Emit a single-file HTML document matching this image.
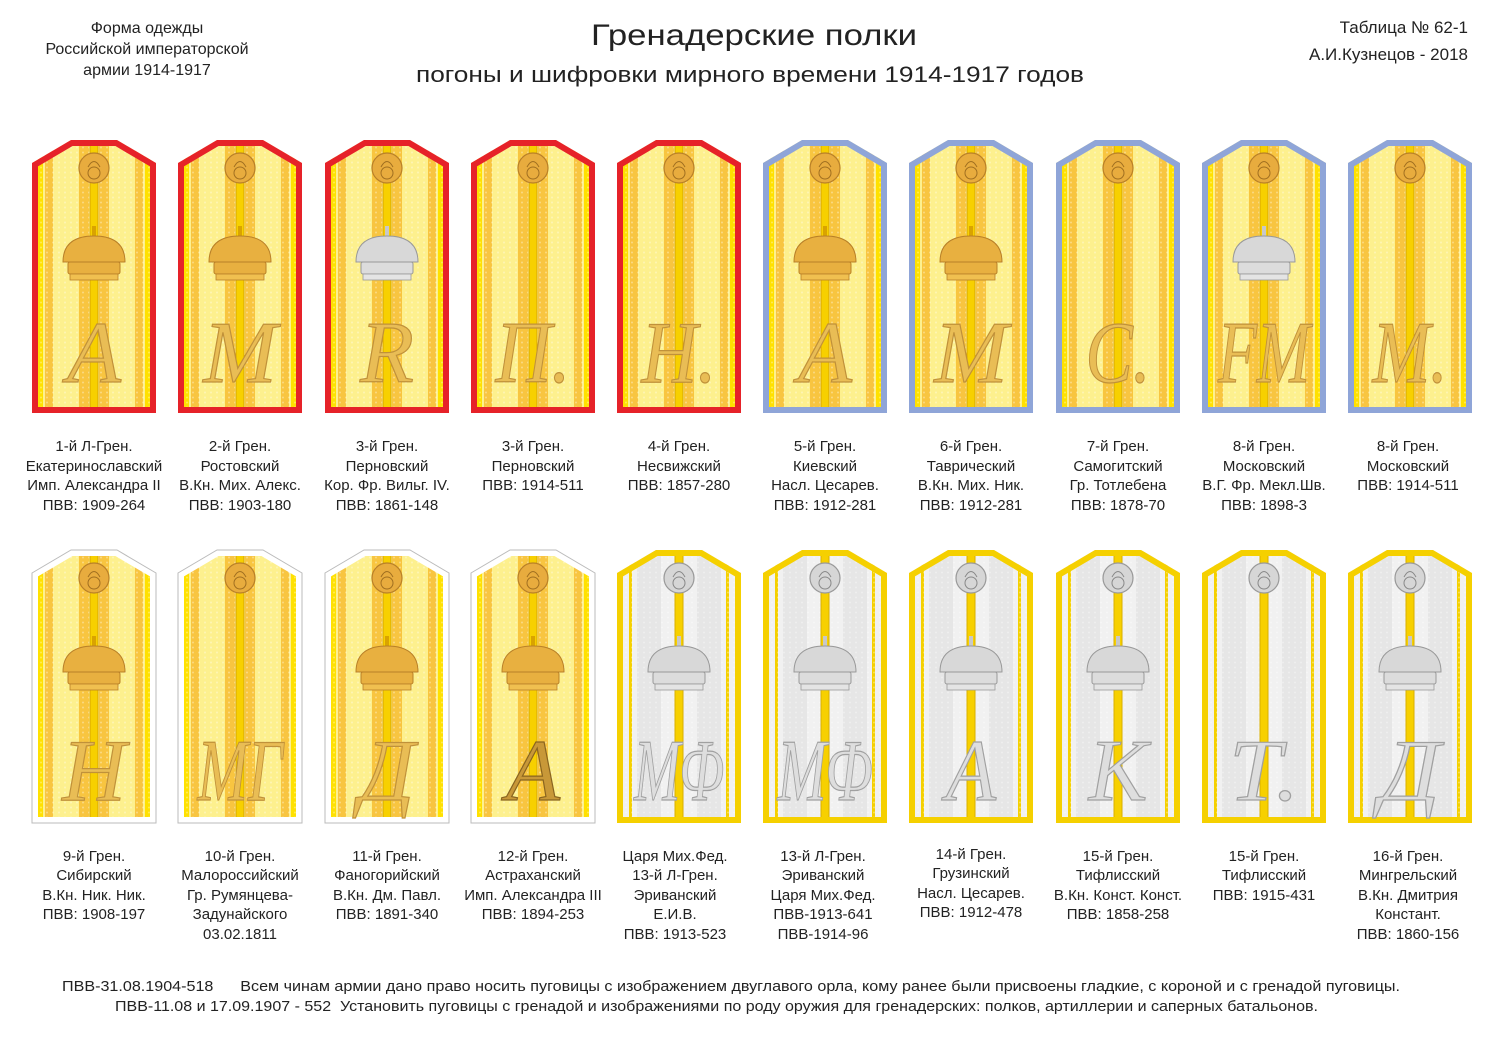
<!DOCTYPE html>
<html><head><meta charset="utf-8"><style>
html,body{margin:0;padding:0;background:#fff;}
svg{display:block;font-family:"Liberation Sans",sans-serif;}
.l{font-size:15px;fill:#222;text-anchor:middle;}
.m{font-family:"Liberation Serif",serif;font-style:italic;font-size:88px;text-anchor:middle;stroke-width:1.2;}
.g{fill:#e9bd55;stroke:#c0913a;}
.s{fill:#dedede;stroke:#a0a0a0;}
</style></head><body>
<svg width="1500" height="1061" viewBox="0 0 1500 1061">
<defs>
<path id="sh" d="M0,23 L39,0 L85,0 L124,23 L124,273 L0,273 Z"/>
<clipPath id="cp"><use href="#sh"/></clipPath>
<pattern id="dots" width="6" height="5" patternUnits="userSpaceOnUse"><circle cx="3" cy="2.5" r="1" fill="#ffffff" opacity="0.35"/></pattern>
<g id="gb" clip-path="url(#cp)">
<rect x="0" y="0" width="124" height="273" fill="#fdf08e"/>
<rect x="6" y="0" width="5" height="273" fill="#ffe100"/>
<rect x="113" y="0" width="5" height="273" fill="#ffe100"/>
<rect x="13" y="0" width="8" height="273" fill="#f8c540"/>
<rect x="103" y="0" width="8" height="273" fill="#f8c540"/>
<rect x="47" y="0" width="10" height="273" fill="#f8c540"/>
<rect x="67" y="0" width="10" height="273" fill="#f8c540"/>
<rect x="0" y="0" width="124" height="273" fill="url(#dots)"/>
<rect x="58" y="0" width="8" height="273" fill="#f7d000" stroke="#d9a300" stroke-width="1"/>
</g>
<g id="wb" clip-path="url(#cp)">
<rect x="0" y="0" width="124" height="273" fill="#f1f1f1"/>
<rect x="12" y="0" width="3" height="273" fill="#f5d000"/>
<rect x="109" y="0" width="3" height="273" fill="#f5d000"/>
<rect x="20" y="0" width="24" height="273" fill="#e6e6e6"/>
<rect x="80" y="0" width="24" height="273" fill="#e6e6e6"/>
<rect x="0" y="0" width="124" height="273" fill="url(#dots)"/>
<rect x="58" y="0" width="8" height="273" fill="#f7d000" stroke="#d9b000" stroke-width="1"/>
</g>
<g id="bg">
<circle cx="62" cy="28" r="15" fill="#e8ac3e" stroke="#b98028" stroke-width="1.2"/>
<circle cx="62" cy="33" r="6" fill="#e8ac3e" stroke="#a06f20"/>
<path d="M56,27 Q62,16 68,27" fill="none" stroke="#a06f20"/>
</g>
<g id="bs">
<circle cx="62" cy="28" r="15" fill="#d6d6d6" stroke="#999" stroke-width="1.2"/>
<circle cx="62" cy="33" r="6" fill="#d6d6d6" stroke="#888"/>
<path d="M56,27 Q62,16 68,27" fill="none" stroke="#888"/>
</g>
<g id="cg">
<rect x="60" y="86" width="4" height="12" fill="#d9a300"/>
<path d="M31,122 Q31,96 62,96 Q93,96 93,122 Z" fill="#e8b040" stroke="#b98028"/>
<rect x="36" y="122" width="52" height="12" rx="2" fill="#e8b040" stroke="#b98028"/>
<rect x="38" y="134" width="48" height="6" fill="#f0c050" stroke="#b98028" stroke-width="0.8"/>
</g>
<g id="cs">
<rect x="60" y="86" width="4" height="12" fill="#c8c8c8"/>
<path d="M31,122 Q31,96 62,96 Q93,96 93,122 Z" fill="#d8d8d8" stroke="#999"/>
<rect x="36" y="122" width="52" height="12" rx="2" fill="#dcdcdc" stroke="#999"/>
<rect x="38" y="134" width="48" height="6" fill="#e4e4e4" stroke="#999" stroke-width="0.8"/>
</g>
</defs>

<g font-size="16" fill="#222" text-anchor="middle">
<text x="147" y="33">Форма одежды</text>
<text x="147" y="54">Российской императорской</text>
<text x="147" y="75">армии  1914-1917</text>
</g>
<text x="754" y="45" font-size="30" text-anchor="middle" fill="#222" textLength="326" lengthAdjust="spacingAndGlyphs">Гренадерские  полки</text>
<text x="750" y="82" font-size="22" text-anchor="middle" fill="#222" textLength="668" lengthAdjust="spacingAndGlyphs">погоны и шифровки мирного времени 1914-1917 годов</text>
<g font-size="17" fill="#222" text-anchor="end">
<text x="1468" y="33">Таблица № 62-1</text>
<text x="1468" y="60">А.И.Кузнецов - 2018</text>
</g>

<!-- row 1 -->
<g transform="translate(32,140)"><use href="#gb"/><use href="#sh" fill="none" stroke="#e62229" stroke-width="12" clip-path="url(#cp)"/><use href="#bg"/><use href="#cg"/><text class="m g" x="62" y="242">А</text></g>
<g transform="translate(178,140)"><use href="#gb"/><use href="#sh" fill="none" stroke="#e62229" stroke-width="12" clip-path="url(#cp)"/><use href="#bg"/><use href="#cg"/><text class="m g" x="62" y="242">М</text></g>
<g transform="translate(325,140)"><use href="#gb"/><use href="#sh" fill="none" stroke="#e62229" stroke-width="12" clip-path="url(#cp)"/><use href="#bg"/><use href="#cs"/><text class="m g" x="62" y="242">R</text></g>
<g transform="translate(471,140)"><use href="#gb"/><use href="#sh" fill="none" stroke="#e62229" stroke-width="12" clip-path="url(#cp)"/><use href="#bg"/><text class="m g" x="62" y="242" textLength="75" lengthAdjust="spacingAndGlyphs">П.</text></g>
<g transform="translate(617,140)"><use href="#gb"/><use href="#sh" fill="none" stroke="#e62229" stroke-width="12" clip-path="url(#cp)"/><use href="#bg"/><text class="m g" x="62" y="242" textLength="75" lengthAdjust="spacingAndGlyphs">Н.</text></g>
<g transform="translate(763,140)"><use href="#gb"/><use href="#sh" fill="none" stroke="#8fa5d8" stroke-width="12" clip-path="url(#cp)"/><use href="#bg"/><use href="#cg"/><text class="m g" x="62" y="242">А</text></g>
<g transform="translate(909,140)"><use href="#gb"/><use href="#sh" fill="none" stroke="#8fa5d8" stroke-width="12" clip-path="url(#cp)"/><use href="#bg"/><use href="#cg"/><text class="m g" x="62" y="242">М</text></g>
<g transform="translate(1056,140)"><use href="#gb"/><use href="#sh" fill="none" stroke="#8fa5d8" stroke-width="12" clip-path="url(#cp)"/><use href="#bg"/><text class="m g" x="62" y="242" textLength="65" lengthAdjust="spacingAndGlyphs">С.</text></g>
<g transform="translate(1202,140)"><use href="#gb"/><use href="#sh" fill="none" stroke="#8fa5d8" stroke-width="12" clip-path="url(#cp)"/><use href="#bg"/><use href="#cs"/><text class="m g" x="62" y="242" textLength="92" lengthAdjust="spacingAndGlyphs">FM</text></g>
<g transform="translate(1348,140)"><use href="#gb"/><use href="#sh" fill="none" stroke="#8fa5d8" stroke-width="12" clip-path="url(#cp)"/><use href="#bg"/><text class="m g" x="62" y="242" textLength="75" lengthAdjust="spacingAndGlyphs">М.</text></g>

<!-- row 2 -->
<g transform="translate(32,550)"><use href="#gb"/><use href="#sh" fill="none" stroke="#ffffff" stroke-width="12" clip-path="url(#cp)"/><use href="#sh" fill="none" stroke="#bbb" stroke-width="1"/><use href="#bg"/><use href="#cg"/><text class="m g" x="62" y="250">Н</text></g>
<g transform="translate(178,550)"><use href="#gb"/><use href="#sh" fill="none" stroke="#ffffff" stroke-width="12" clip-path="url(#cp)"/><use href="#sh" fill="none" stroke="#bbb" stroke-width="1"/><use href="#bg"/><text class="m g" x="62" y="250" textLength="85" lengthAdjust="spacingAndGlyphs">МГ</text></g>
<g transform="translate(325,550)"><use href="#gb"/><use href="#sh" fill="none" stroke="#ffffff" stroke-width="12" clip-path="url(#cp)"/><use href="#sh" fill="none" stroke="#bbb" stroke-width="1"/><use href="#bg"/><use href="#cg"/><text class="m g" x="62" y="250" textLength="55" lengthAdjust="spacingAndGlyphs">Д</text></g>
<g transform="translate(471,550)"><use href="#gb"/><use href="#sh" fill="none" stroke="#ffffff" stroke-width="12" clip-path="url(#cp)"/><use href="#sh" fill="none" stroke="#bbb" stroke-width="1"/><use href="#bg"/><use href="#cg"/><text class="m" x="62" y="250" fill="#c89838" stroke="#8a6520">А</text></g>
<g transform="translate(617,550)"><use href="#wb"/><use href="#sh" fill="none" stroke="#f5d000" stroke-width="12" clip-path="url(#cp)"/><use href="#bs"/><use href="#cs"/><text class="m s" x="62" y="250" textLength="90" lengthAdjust="spacingAndGlyphs">МФ</text></g>
<g transform="translate(763,550)"><use href="#wb"/><use href="#sh" fill="none" stroke="#f5d000" stroke-width="12" clip-path="url(#cp)"/><use href="#bs"/><use href="#cs"/><text class="m s" x="62" y="250" textLength="95" lengthAdjust="spacingAndGlyphs">МФ</text></g>
<g transform="translate(909,550)"><use href="#wb"/><use href="#sh" fill="none" stroke="#f5d000" stroke-width="12" clip-path="url(#cp)"/><use href="#bs"/><use href="#cs"/><text class="m s" x="62" y="250" textLength="50" lengthAdjust="spacingAndGlyphs">А</text></g>
<g transform="translate(1056,550)"><use href="#wb"/><use href="#sh" fill="none" stroke="#f5d000" stroke-width="12" clip-path="url(#cp)"/><use href="#bs"/><use href="#cs"/><text class="m s" x="62" y="250">К</text></g>
<g transform="translate(1202,550)"><use href="#wb"/><use href="#sh" fill="none" stroke="#f5d000" stroke-width="12" clip-path="url(#cp)"/><use href="#bs"/><text class="m s" x="62" y="250" textLength="70" lengthAdjust="spacingAndGlyphs">Т.</text></g>
<g transform="translate(1348,550)"><use href="#wb"/><use href="#sh" fill="none" stroke="#f5d000" stroke-width="12" clip-path="url(#cp)"/><use href="#bs"/><use href="#cs"/><text class="m s" x="62" y="250" textLength="60" lengthAdjust="spacingAndGlyphs">Д</text></g>

<g>
<text class="l" x="94" y="451">1-й Л-Грен.</text><text class="l" x="94" y="471">Екатеринославский</text><text class="l" x="94" y="490">Имп. Александра II</text><text class="l" x="94" y="510">ПВВ: 1909-264</text>
<text class="l" x="240" y="451">2-й Грен.</text><text class="l" x="240" y="471">Ростовский</text><text class="l" x="240" y="490">В.Кн. Мих. Алекс.</text><text class="l" x="240" y="510">ПВВ: 1903-180</text>
<text class="l" x="387" y="451">3-й Грен.</text><text class="l" x="387" y="471">Перновский</text><text class="l" x="387" y="490">Кор. Фр. Вильг. IV.</text><text class="l" x="387" y="510">ПВВ: 1861-148</text>
<text class="l" x="533" y="451">3-й Грен.</text><text class="l" x="533" y="471">Перновский</text><text class="l" x="533" y="490">ПВВ: 1914-511</text>
<text class="l" x="679" y="451">4-й Грен.</text><text class="l" x="679" y="471">Несвижский</text><text class="l" x="679" y="490">ПВВ: 1857-280</text>
<text class="l" x="825" y="451">5-й Грен.</text><text class="l" x="825" y="471">Киевский</text><text class="l" x="825" y="490">Насл. Цесарев.</text><text class="l" x="825" y="510">ПВВ: 1912-281</text>
<text class="l" x="971" y="451">6-й Грен.</text><text class="l" x="971" y="471">Таврический</text><text class="l" x="971" y="490">В.Кн. Мих. Ник.</text><text class="l" x="971" y="510">ПВВ: 1912-281</text>
<text class="l" x="1118" y="451">7-й Грен.</text><text class="l" x="1118" y="471">Самогитский</text><text class="l" x="1118" y="490">Гр. Тотлебена</text><text class="l" x="1118" y="510">ПВВ: 1878-70</text>
<text class="l" x="1264" y="451">8-й Грен.</text><text class="l" x="1264" y="471">Московский</text><text class="l" x="1264" y="490">В.Г. Фр. Мекл.Шв.</text><text class="l" x="1264" y="510">ПВВ: 1898-3</text>
<text class="l" x="1408" y="451">8-й Грен.</text><text class="l" x="1408" y="471">Московский</text><text class="l" x="1408" y="490">ПВВ: 1914-511</text>
</g>
<g>
<text class="l" x="94" y="861">9-й Грен.</text><text class="l" x="94" y="880">Сибирский</text><text class="l" x="94" y="900">В.Кн. Ник. Ник.</text><text class="l" x="94" y="919">ПВВ: 1908-197</text>
<text class="l" x="240" y="861">10-й Грен.</text><text class="l" x="240" y="880">Малороссийский</text><text class="l" x="240" y="900">Гр. Румянцева-</text><text class="l" x="240" y="919">Задунайского</text><text class="l" x="240" y="939">03.02.1811</text>
<text class="l" x="387" y="861">11-й Грен.</text><text class="l" x="387" y="880">Фаногорийский</text><text class="l" x="387" y="900">В.Кн. Дм. Павл.</text><text class="l" x="387" y="919">ПВВ: 1891-340</text>
<text class="l" x="533" y="861">12-й Грен.</text><text class="l" x="533" y="880">Астраханский</text><text class="l" x="533" y="900">Имп. Александра III</text><text class="l" x="533" y="919">ПВВ: 1894-253</text>
<text class="l" x="675" y="861">Царя Мих.Фед.</text><text class="l" x="675" y="880">13-й Л-Грен.</text><text class="l" x="675" y="900">Эриванский</text><text class="l" x="675" y="919">Е.И.В.</text><text class="l" x="675" y="939">ПВВ: 1913-523</text>
<text class="l" x="823" y="861">13-й Л-Грен.</text><text class="l" x="823" y="880">Эриванский</text><text class="l" x="823" y="900">Царя Мих.Фед.</text><text class="l" x="823" y="919">ПВВ-1913-641</text><text class="l" x="823" y="939">ПВВ-1914-96</text>
<text class="l" x="971" y="859">14-й Грен.</text><text class="l" x="971" y="878">Грузинский</text><text class="l" x="971" y="898">Насл. Цесарев.</text><text class="l" x="971" y="917">ПВВ: 1912-478</text>
<text class="l" x="1118" y="861">15-й Грен.</text><text class="l" x="1118" y="880">Тифлисский</text><text class="l" x="1118" y="900">В.Кн. Конст. Конст.</text><text class="l" x="1118" y="919">ПВВ: 1858-258</text>
<text class="l" x="1264" y="861">15-й Грен.</text><text class="l" x="1264" y="880">Тифлисский</text><text class="l" x="1264" y="900">ПВВ: 1915-431</text>
<text class="l" x="1408" y="861">16-й Грен.</text><text class="l" x="1408" y="880">Мингрельский</text><text class="l" x="1408" y="900">В.Кн. Дмитрия</text><text class="l" x="1408" y="919">Констант.</text><text class="l" x="1408" y="939">ПВВ: 1860-156</text>
</g>

<text x="62" y="991" font-size="15" fill="#222" style="white-space:pre" textLength="1338" lengthAdjust="spacingAndGlyphs">ПВВ-31.08.1904-518      Всем чинам армии дано право носить пуговицы с изображением двуглавого орла, кому ранее были присвоены гладкие, с короной и с гренадой пуговицы.</text>
<text x="115" y="1011" font-size="15" fill="#222" style="white-space:pre" textLength="1203" lengthAdjust="spacingAndGlyphs">ПВВ-11.08 и 17.09.1907 - 552  Установить пуговицы с гренадой и изображениями по роду оружия для гренадерских: полков, артиллерии и саперных батальонов.</text>
</svg>
</body></html>
